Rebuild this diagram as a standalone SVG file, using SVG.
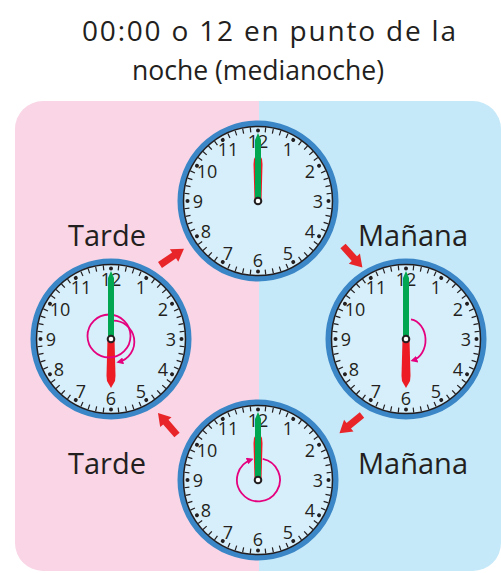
<svg xmlns="http://www.w3.org/2000/svg" xmlns:xlink="http://www.w3.org/1999/xlink" width="501" height="573" viewBox="0 0 501 573">
<style>
.t{font-family:"Open Sans","Noto Sans","DejaVu Sans",sans-serif;fill:#231f20}
.title{font-size:28px}
.lbl{font-size:29px}
.num{font-size:18px;text-anchor:middle}
.tick{stroke:#231f20;stroke-width:1.2}
.spiral{fill:none;stroke:#e5007e;stroke-width:1.8;marker-end:url(#mh)}
</style>
<defs>
<clipPath id="bgclip"><rect x="15" y="101" width="486" height="470" rx="28"/></clipPath>
<marker id="mh" viewBox="0 0 10 10" refX="7" refY="5" markerWidth="7" markerHeight="7" markerUnits="userSpaceOnUse" orient="auto"><path d="M0,0 L10,5 L0,10 Z" fill="#e5007e"/></marker>
<g id="face">
<circle r="77.5" fill="none" stroke="#3a86c6" stroke-width="6"/>
<circle r="74.5" fill="#d7effb" stroke="#231f20" stroke-width="1.5"/>
<g class="tick">
<line x1="0" y1="-74" x2="0" y2="-69" transform="rotate(6)"/><line x1="0" y1="-74" x2="0" y2="-69" transform="rotate(12)"/><line x1="0" y1="-74" x2="0" y2="-69" transform="rotate(18)"/><line x1="0" y1="-74" x2="0" y2="-69" transform="rotate(24)"/>
<line x1="0" y1="-74" x2="0" y2="-69" transform="rotate(36)"/><line x1="0" y1="-74" x2="0" y2="-69" transform="rotate(42)"/><line x1="0" y1="-74" x2="0" y2="-69" transform="rotate(48)"/><line x1="0" y1="-74" x2="0" y2="-69" transform="rotate(54)"/>
<line x1="0" y1="-74" x2="0" y2="-69" transform="rotate(66)"/><line x1="0" y1="-74" x2="0" y2="-69" transform="rotate(72)"/><line x1="0" y1="-74" x2="0" y2="-69" transform="rotate(78)"/><line x1="0" y1="-74" x2="0" y2="-69" transform="rotate(84)"/>
<line x1="0" y1="-74" x2="0" y2="-69" transform="rotate(96)"/><line x1="0" y1="-74" x2="0" y2="-69" transform="rotate(102)"/><line x1="0" y1="-74" x2="0" y2="-69" transform="rotate(108)"/><line x1="0" y1="-74" x2="0" y2="-69" transform="rotate(114)"/>
<line x1="0" y1="-74" x2="0" y2="-69" transform="rotate(126)"/><line x1="0" y1="-74" x2="0" y2="-69" transform="rotate(132)"/><line x1="0" y1="-74" x2="0" y2="-69" transform="rotate(138)"/><line x1="0" y1="-74" x2="0" y2="-69" transform="rotate(144)"/>
<line x1="0" y1="-74" x2="0" y2="-69" transform="rotate(156)"/><line x1="0" y1="-74" x2="0" y2="-69" transform="rotate(162)"/><line x1="0" y1="-74" x2="0" y2="-69" transform="rotate(168)"/><line x1="0" y1="-74" x2="0" y2="-69" transform="rotate(174)"/>
<line x1="0" y1="-74" x2="0" y2="-69" transform="rotate(186)"/><line x1="0" y1="-74" x2="0" y2="-69" transform="rotate(192)"/><line x1="0" y1="-74" x2="0" y2="-69" transform="rotate(198)"/><line x1="0" y1="-74" x2="0" y2="-69" transform="rotate(204)"/>
<line x1="0" y1="-74" x2="0" y2="-69" transform="rotate(216)"/><line x1="0" y1="-74" x2="0" y2="-69" transform="rotate(222)"/><line x1="0" y1="-74" x2="0" y2="-69" transform="rotate(228)"/><line x1="0" y1="-74" x2="0" y2="-69" transform="rotate(234)"/>
<line x1="0" y1="-74" x2="0" y2="-69" transform="rotate(246)"/><line x1="0" y1="-74" x2="0" y2="-69" transform="rotate(252)"/><line x1="0" y1="-74" x2="0" y2="-69" transform="rotate(258)"/><line x1="0" y1="-74" x2="0" y2="-69" transform="rotate(264)"/>
<line x1="0" y1="-74" x2="0" y2="-69" transform="rotate(276)"/><line x1="0" y1="-74" x2="0" y2="-69" transform="rotate(282)"/><line x1="0" y1="-74" x2="0" y2="-69" transform="rotate(288)"/><line x1="0" y1="-74" x2="0" y2="-69" transform="rotate(294)"/>
<line x1="0" y1="-74" x2="0" y2="-69" transform="rotate(306)"/><line x1="0" y1="-74" x2="0" y2="-69" transform="rotate(312)"/><line x1="0" y1="-74" x2="0" y2="-69" transform="rotate(318)"/><line x1="0" y1="-74" x2="0" y2="-69" transform="rotate(324)"/>
<line x1="0" y1="-74" x2="0" y2="-69" transform="rotate(336)"/><line x1="0" y1="-74" x2="0" y2="-69" transform="rotate(342)"/><line x1="0" y1="-74" x2="0" y2="-69" transform="rotate(348)"/><line x1="0" y1="-74" x2="0" y2="-69" transform="rotate(354)"/>
</g>
<g fill="#231f20">
<circle cx="0" cy="-70.5" r="2"/><circle cx="0" cy="-70.5" r="2" transform="rotate(30)"/><circle cx="0" cy="-70.5" r="2" transform="rotate(60)"/><circle cx="0" cy="-70.5" r="2" transform="rotate(90)"/>
<circle cx="0" cy="-70.5" r="2" transform="rotate(120)"/><circle cx="0" cy="-70.5" r="2" transform="rotate(150)"/><circle cx="0" cy="-70.5" r="2" transform="rotate(180)"/><circle cx="0" cy="-70.5" r="2" transform="rotate(210)"/>
<circle cx="0" cy="-70.5" r="2" transform="rotate(240)"/><circle cx="0" cy="-70.5" r="2" transform="rotate(270)"/><circle cx="0" cy="-70.5" r="2" transform="rotate(300)"/><circle cx="0" cy="-70.5" r="2" transform="rotate(330)"/>
</g>
<g class="t num">
<text x="30" y="-45.5">1</text><text x="52" y="-23.5">2</text><text x="60" y="6.5">3</text><text x="52" y="36.5">4</text>
<text x="30" y="58.5">5</text><text x="0" y="66">6</text><text x="-30" y="58.5">7</text><text x="-52" y="36.5">8</text>
<text x="-60" y="6.5">9</text><text x="-51" y="-23.5">10</text><text x="-30" y="-45.5">11</text><text x="0" y="-53">12</text>
</g>
</g>
<polygon id="minute" points="-3,0 -3,-61 0,-68 3,-61 3,0" fill="#00a650"/>
<polygon id="hour" points="-3.5,0 -4.5,-37 -4,-42 0,-49 4,-42 4.5,-37 3.5,0" fill="#ed1c24"/>
<circle id="pin" r="3.3" fill="#fff" stroke="#231f20" stroke-width="2"/>
<path id="bigarrow" d="M0,-3.5 L17,-3.5 L17,-7.5 L29,0 L17,7.5 L17,3.5 L0,3.5 Z" fill="#e8262a"/>
</defs>

<g id="background" clip-path="url(#bgclip)">
<rect x="15" y="101" width="244" height="470" fill="#f9d5e5"/>
<rect x="259" y="101" width="242" height="470" fill="#c6e9f9"/>
</g>

<g id="title" class="t title">
<text x="82" y="41" textLength="374" lengthAdjust="spacing">00:00 o 12 en punto de la</text>
<text x="132" y="80" textLength="252" lengthAdjust="spacingAndGlyphs">noche (medianoche)</text>
</g>

<g id="clock-top" transform="translate(258,201)">
<use xlink:href="#face"/>
<use xlink:href="#hour"/>
<use xlink:href="#minute"/>
<use xlink:href="#pin"/>
</g>

<g id="clock-right" transform="translate(406,339)">
<use xlink:href="#face"/>
<use xlink:href="#hour" transform="rotate(180)"/>
<use xlink:href="#minute"/>
<path class="spiral" d="M5,-19.7 A17 21 0 0 1 6.5,21.5"/>
<use xlink:href="#pin"/>
</g>

<g id="clock-bottom" transform="translate(258,480)">
<use xlink:href="#face"/>
<use xlink:href="#hour"/>
<path class="spiral" d="M4.7,-21.2 A21.5 21.5 0 1 1 -6.4,-20.5"/>
<use xlink:href="#minute"/>
<use xlink:href="#pin"/>
</g>

<g id="clock-left" transform="translate(111,339)">
<use xlink:href="#face"/>
<use xlink:href="#hour" transform="rotate(180)"/>
<circle cx="-2" cy="-3" r="21.5" fill="none" stroke="#e5007e" stroke-width="1.8"/>
<path class="spiral" d="M0.5,-18.2 A21 21 0 0 1 7.4,23.1"/>
<use xlink:href="#minute"/>
<use xlink:href="#pin"/>
</g>

<g id="labels" class="t lbl">
<text x="68" y="246">Tarde</text>
<text x="358" y="246">Mañana</text>
<text x="68" y="474">Tarde</text>
<text x="358" y="474">Mañana</text>
</g>

<g id="connectors">
<use xlink:href="#bigarrow" transform="translate(160,265) rotate(-34.2)"/>
<use xlink:href="#bigarrow" transform="translate(343,246) rotate(48)"/>
<use xlink:href="#bigarrow" transform="translate(177,435) rotate(229)"/>
<use xlink:href="#bigarrow" transform="translate(362,415) rotate(141)"/>
</g>
</svg>
